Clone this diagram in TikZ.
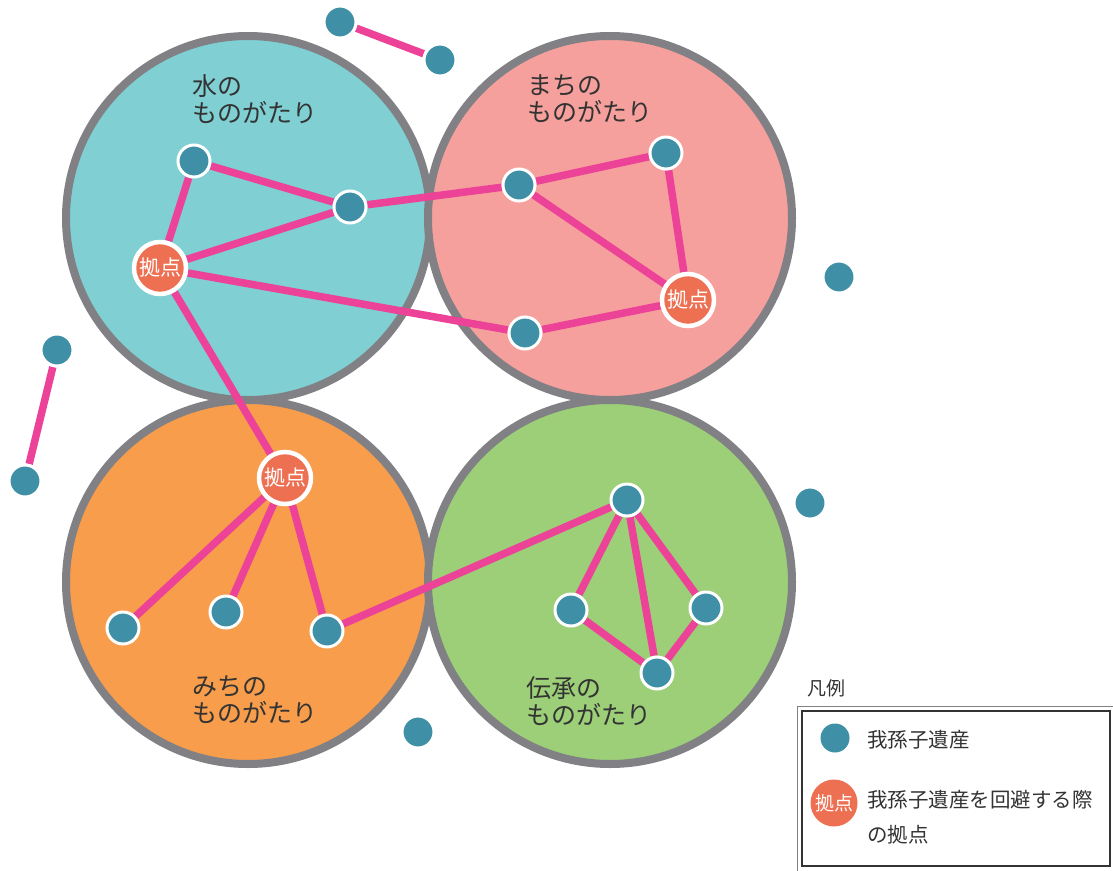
\documentclass[tikz,border=0pt]{standalone}
\usepackage{fontspec}
\setmainfont{Noto Sans CJK JP}
\usepackage{xcolor}
\usetikzlibrary{backgrounds}

\definecolor{waterfill}{HTML}{7FCFD3}
\definecolor{townfill}{HTML}{F5A09C}
\definecolor{roadfill}{HTML}{F79D4B}
\definecolor{legendfill}{HTML}{9CCF78}
\definecolor{ringgray}{HTML}{818185}
\definecolor{herblue}{HTML}{3F8FA6}
\definecolor{hubred}{HTML}{EE7052}
\definecolor{routepink}{HTML}{EC4398}
\definecolor{textgray}{HTML}{333333}

\begin{document}
\begin{tikzpicture}[x=1pt, y=-1pt,
    area/.style={line width=8pt, draw=ringgray},
    heritage/.style={circle, fill=herblue, draw=white, line width=3pt, minimum size=32pt, inner sep=0pt},
    hub/.style={circle, fill=hubred, draw=white, line width=4.5pt, minimum size=52pt, inner sep=0pt, text=white, font=\fontsize{21}{21}\selectfont},
    route/.style={line width=7.5pt, draw=routepink},
    title/.style={anchor=north west, align=left, inner sep=0pt, text=textgray, font=\fontsize{25}{27}\selectfont}
]
    \useasboundingbox (0,0) rectangle (1113,870);

    % Heritage sites and hubs
    \node[heritage] (w1) at (194,161) {};
    \node[heritage] (w2) at (350,207) {};
    \node[hub] (wh) at (160,268) {拠点};

    \node[heritage] (t1) at (519,185) {};
    \node[heritage] (t2) at (666,153) {};
    \node[hub] (th) at (688,300) {拠点};
    \node[heritage] (t3) at (525,333) {};

    \node[hub] (rh) at (285,478) {拠点};
    \node[heritage] (r1) at (123,628) {};
    \node[heritage] (r2) at (226,612) {};
    \node[heritage] (r3) at (327,631) {};

    \node[heritage] (l1) at (627,500) {};
    \node[heritage] (l2) at (571,610) {};
    \node[heritage] (l3) at (706,608) {};
    \node[heritage] (l4) at (657,673) {};

    % Sites outside the stories
    \node[heritage] (o1) at (340,22) {};
    \node[heritage] (o2) at (440,60) {};
    \node[heritage] (o3) at (57,350) {};
    \node[heritage] (o4) at (25,481) {};
    \node[heritage] (o5) at (839,277) {};
    \node[heritage] (o6) at (810,503) {};
    \node[heritage] (o7) at (418,732) {};

    \begin{scope}[on background layer]
        % Story circles
        \draw[area, fill=waterfill] (248,218) circle (182);
        \draw[area, fill=townfill] (610,218) circle (182);
        \draw[area, fill=roadfill] (248,582) circle (182);
        \draw[area, fill=legendfill] (610,582) circle (182);

        % Routes
        \draw[route] (w1) -- (w2) -- (t1) -- (t2) -- (th) -- (t3) -- (wh) -- (w1);
        \draw[route] (wh) -- (w2);
        \draw[route] (t1) -- (th);
        \draw[route] (wh) -- (rh) -- (r1);
        \draw[route] (rh) -- (r2);
        \draw[route] (rh) -- (r3) -- (l1) -- (l2) -- (l4) -- (l3) -- (l1) -- (l4);
        \draw[route] (o1) -- (o2);
        \draw[route] (o3) -- (o4);
    \end{scope}

    % Story titles
    \node[title] (wt) at (192,74) {水の\\ものがたり};
    \node[title] (tt) at (527,74) {まちの\\ものがたり};
    \node[title] (rt) at (192,676) {みちの\\ものがたり};
    \node[title] (lt) at (526,676) {伝承の\\ものがたり};

    % Legend
    \node[anchor=west, inner sep=0pt, text=textgray, font=\fontsize{19}{19}\selectfont] (legtitle) at (807,688) {凡例};
    \draw[ringgray, line width=1pt] (797,706) rectangle (1118,875);
    \draw[textgray, line width=1.5pt] (802,711) rectangle (1110,866);
    \node[heritage, draw=none, minimum size=29pt] (legsite) at (835,738) {};
    \node[anchor=west, inner sep=0pt, text=textgray, font=\fontsize{20.5}{20.5}\selectfont] (legsitetext) at (867,740) {我孫子遺産};
    \node[hub, draw=none, minimum size=47pt, font=\fontsize{19}{19}\selectfont] (leghub) at (834,803) {拠点};
    \node[anchor=north west, align=left, inner sep=0pt, text=textgray, font=\fontsize{20.5}{35}\selectfont] (leghubtext) at (867,790) {我孫子遺産を回避する際\\の拠点};
\end{tikzpicture}
\end{document}
